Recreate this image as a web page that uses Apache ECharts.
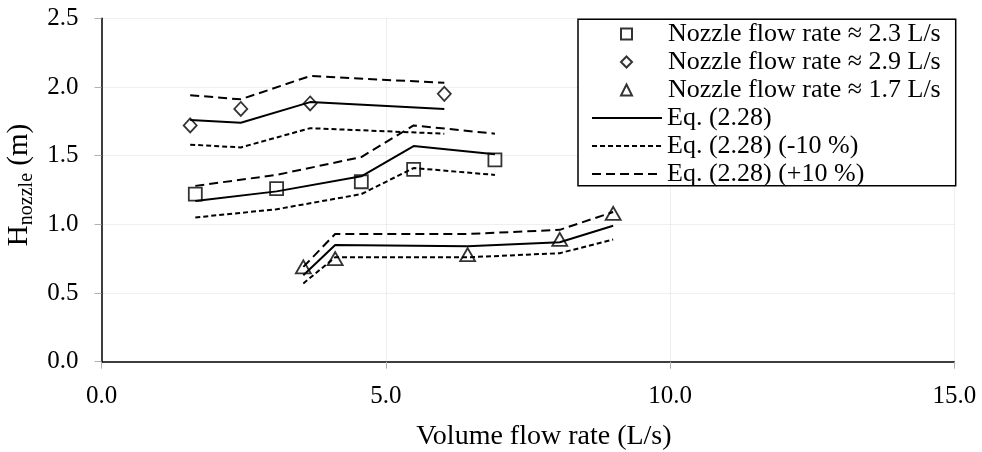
<!DOCTYPE html>
<html>
<head>
<meta charset="utf-8">
<script src="https://cdn.jsdelivr.net/npm/echarts@6/dist/echarts.min.js"></script>
<style>
  html, body { margin: 0; padding: 0; background: #ffffff; }
  #chart { width: 982px; height: 452px; }
</style>
</head>
<body>
<div id="chart"></div>
<script>
// Measured nozzle head versus volume flow rate, three nozzle flow rates
const flow23 = [1.65, 3.08, 4.57, 5.49, 6.92];
const head23 = [1.22, 1.26, 1.31, 1.40, 1.47];
const eq23 = [1.17, 1.24, 1.35, 1.57, 1.51];
const eq23Minus = [1.05, 1.11, 1.22, 1.41, 1.36];
const eq23Plus = [1.28, 1.36, 1.49, 1.72, 1.66];

const flow29 = [1.56, 2.45, 3.67, 6.03];
const head29 = [1.72, 1.84, 1.88, 1.95];
const eq29 = [1.76, 1.74, 1.89, 1.84];
const eq29Minus = [1.58, 1.56, 1.70, 1.66];
const eq29Plus = [1.94, 1.91, 2.08, 2.03];

const flow17 = [3.55, 4.11, 6.44, 8.06, 9.00];
const head17 = [0.69, 0.75, 0.78, 0.89, 1.08];
const eq17 = [0.63, 0.85, 0.84, 0.87, 0.99];
const eq17Minus = [0.57, 0.76, 0.76, 0.79, 0.89];
const eq17Plus = [0.69, 0.93, 0.93, 0.96, 1.09];

const xTicks = { min: 0, max: 15, interval: 5 };
const yTicks = { min: 0, max: 2.5, interval: 0.5 };

const NAME_23 = 'Nozzle flow rate ≈ 2.3 L/s';
const NAME_29 = 'Nozzle flow rate ≈ 2.9 L/s';
const NAME_17 = 'Nozzle flow rate ≈ 1.7 L/s';
const NAME_EQ = 'Eq. (2.28)';
const NAME_MINUS = 'Eq. (2.28) (-10 %)';
const NAME_PLUS = 'Eq. (2.28) (+10 %)';

const FONT = '"Liberation Serif", "Times New Roman", serif';
const CLEAR = 'rgba(0,0,0,0)';

function zip(xs, ys) {
  return xs.map((x, i) => [x, ys[i]]);
}

function markers(name, symbol, size, xs, ys) {
  return {
    name: name,
    type: 'scatter',
    symbol: symbol,
    symbolSize: size,
    z: 5,
    itemStyle: { color: CLEAR, borderColor: '#000', borderWidth: 1.8 },
    data: zip(xs, ys)
  };
}

function curve(name, dash, xs, ys) {
  return {
    name: name,
    type: 'line',
    symbol: 'none',
    showSymbol: false,
    z: 3,
    itemStyle: { color: CLEAR, borderColor: CLEAR, borderWidth: 0 },
    lineStyle: { color: '#000', width: 2, type: dash },
    data: zip(xs, ys)
  };
}

const SOLID = 'solid';
const SHORT_DASH = [5, 3];
const LONG_DASH = [9, 5];

const series = [
  markers(NAME_23, 'rect', 13, flow23, head23),
  markers(NAME_29, 'diamond', [13, 14], flow29, head29),
  markers(NAME_17, 'triangle', [15, 13], flow17, head17),
  curve(NAME_EQ, SOLID, flow23, eq23),
  curve(NAME_EQ, SOLID, flow29, eq29),
  curve(NAME_EQ, SOLID, flow17, eq17),
  curve(NAME_MINUS, SHORT_DASH, flow23, eq23Minus),
  curve(NAME_MINUS, SHORT_DASH, flow29, eq29Minus),
  curve(NAME_MINUS, SHORT_DASH, flow17, eq17Minus),
  curve(NAME_PLUS, LONG_DASH, flow23, eq23Plus),
  curve(NAME_PLUS, LONG_DASH, flow29, eq29Plus),
  curve(NAME_PLUS, LONG_DASH, flow17, eq17Plus)
];

// Legend box geometry: one frame holding marker entries and line entries
const BOX = { x: 578, y: 19.3, w: 377.7, h: 166.4 };
const ROW = 28;
const legendText = { fontFamily: FONT, fontSize: 26, color: '#000', lineHeight: ROW };

const chart = echarts.init(document.getElementById('chart'), null, { renderer: 'canvas' });

chart.setOption({
  animation: false,
  backgroundColor: '#ffffff',
  textStyle: { fontFamily: FONT, color: '#000' },
  grid: {
    left: 101.5, right: 27.7, top: 18.3, bottom: 90.3,
    containLabel: false,
    outerBoundsMode: 'none'
  },
  graphic: [{
    type: 'rect',
    z: 6,
    silent: true,
    shape: { x: BOX.x, y: BOX.y, width: BOX.w, height: BOX.h },
    style: { fill: '#fff', stroke: '#000', lineWidth: 1.5 }
  }],
  legend: [
    {
      orient: 'vertical',
      left: 620,
      top: 20,
      padding: 0,
      itemGap: 0,
      itemWidth: 11,
      itemHeight: 11,
      z: 10,
      selectedMode: false,
      data: [NAME_23, NAME_29, NAME_17],
      textStyle: Object.assign({ padding: [0, 0, 0, 31] }, legendText)
    },
    {
      orient: 'vertical',
      left: 591,
      top: 20 + 3 * ROW,
      padding: 0,
      itemGap: 0,
      itemWidth: 70,
      itemHeight: 10,
      z: 10,
      selectedMode: false,
      data: [NAME_EQ, NAME_MINUS, NAME_PLUS],
      textStyle: legendText,
      lineStyle: { width: 2 }
    }
  ],
  xAxis: {
    type: 'value',
    min: xTicks.min,
    max: xTicks.max,
    interval: xTicks.interval,
    name: 'Volume flow rate (L/s)',
    nameLocation: 'middle',
    nameGap: 61,
    nameTextStyle: { fontFamily: FONT, fontSize: 28, color: '#000', padding: [0, 0, 0, 32] },
    axisLine: { onZero: false, lineStyle: { color: '#000', width: 1.5 } },
    axisTick: { show: true, inside: false, length: 7, lineStyle: { color: '#b0b0b0', width: 1 } },
    axisLabel: {
      margin: 22,
      fontFamily: FONT,
      fontSize: 25,
      color: '#000',
      formatter: v => v.toFixed(1)
    },
    splitLine: { show: true, lineStyle: { color: '#dedede', width: 1, type: 'dotted' } }
  },
  yAxis: {
    type: 'value',
    min: yTicks.min,
    max: yTicks.max,
    interval: yTicks.interval,
    name: '{h|H}{s|nozzle}{h| (m)}',
    nameLocation: 'middle',
    nameRotate: 90,
    nameGap: 55,
    nameTextStyle: {
      padding: [0, 0, 0, 10],
      rich: {
        h: { fontFamily: FONT, fontSize: 29, color: '#000', lineHeight: 34, verticalAlign: 'middle' },
        s: { fontFamily: FONT, fontSize: 20, color: '#000', lineHeight: 34, verticalAlign: 'bottom' }
      }
    },
    axisLine: { show: true, onZero: false, lineStyle: { color: '#000', width: 1.5 } },
    axisTick: { show: true, inside: false, length: 7, lineStyle: { color: '#b0b0b0', width: 1 } },
    axisLabel: {
      margin: 23,
      fontFamily: FONT,
      fontSize: 25,
      color: '#000',
      formatter: v => v.toFixed(1)
    },
    splitLine: { show: true, lineStyle: { color: '#dedede', width: 1, type: 'dotted' } }
  },
  series: series
});
</script>
</body>
</html>
